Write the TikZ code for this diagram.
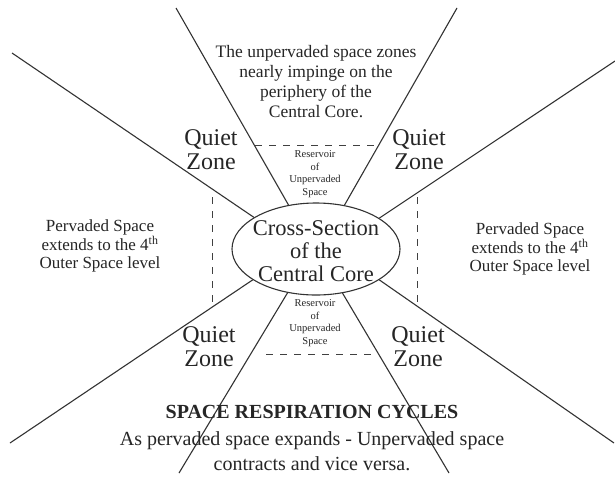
\documentclass[tikz,border=0pt]{standalone}
\usepackage{fontspec}
\setmainfont{Liberation Serif}
\usetikzlibrary{shapes.geometric}
\begin{document}
\begin{tikzpicture}[x=1pt,y=-1pt,
  ray/.style={draw=black!80,line width=1.1pt},
  dashline/.style={draw=black!75,line width=0.9pt,dash pattern=on 7pt off 7pt},
  txt/.style={inner sep=0pt,align=center,text=black!85},
  quiet/.style={txt,font=\fontsize{24}{24}\selectfont},
  resv/.style={txt,font=\fontsize{10.5}{12.5}\selectfont},
  mid/.style={txt,font=\fontsize{17}{18}\selectfont},
]
\useasboundingbox[fill=white] (0,0) rectangle (615,477);
\node[ellipse,draw=black!80,line width=1.1pt,minimum width=168pt,minimum height=92pt,inner sep=0pt] (core) at (316,249) {};
\node[txt,font=\fontsize{22.5}{23}\selectfont] (coret) at (316,251) {Cross-Section\\of the\\Central Core};
% outer ends
\coordinate (o1) at (12,53);
\coordinate (o2) at (176,8);
\coordinate (o3) at (457,8);
\coordinate (o4) at (615,61);
\coordinate (o5) at (10,443);
\coordinate (o6) at (179,473);
\coordinate (o7) at (449,473);
\coordinate (o8) at (614,443);
\draw[ray] (core.153.8) -- (o1);
\draw[ray] (core.122.8) -- (o2);
\draw[ray] (core.57.2) -- (o3);
\draw[ray] (core.26.2) -- (o4);
\draw[ray] (core.206) -- (o5);
\draw[ray] (core.237.2) -- (o6);
\draw[ray] (core.301) -- (o7);
\draw[ray] (core.334) -- (o8);
% dashed lines
\coordinate (d1) at (255,145);
\coordinate (d2) at (376,145);
\coordinate (d3) at (266,354);
\coordinate (d4) at (378,354);
\coordinate (d5) at (212,197);
\coordinate (d6) at (212,305);
\coordinate (d7) at (417,197);
\coordinate (d8) at (417,305);
\draw[dashline] (d1) -- (d2);
\draw[dashline] (d3) -- (d4);
\draw[dashline] (d5) -- (d6);
\draw[dashline] (d7) -- (d8);
% texts
\node[txt,font=\fontsize{17.5}{20}\selectfont] (top) at (316,82) {The unpervaded space zones\\nearly impinge on the\\periphery of the\\Central Core.};
\node[quiet] (q1) at (211,150) {Quiet\\Zone};
\node[quiet] (q2) at (419,150) {Quiet\\Zone};
\node[quiet] (q3) at (209,347) {Quiet\\Zone};
\node[quiet] (q4) at (418,347) {Quiet\\Zone};
\node[resv] (r1) at (315,174) {Reservoir\\of\\Unpervaded\\Space};
\node[resv] (r2) at (315,323) {Reservoir\\of\\Unpervaded\\Space};
\node[mid] (pl) at (100,246) {Pervaded Space\\extends to the 4\textsuperscript{th}\\Outer Space level};
\node[mid] (pr) at (530,249) {Pervaded Space\\extends to the 4\textsuperscript{th}\\Outer Space level};
\node[txt,font=\fontsize{20}{25}\selectfont\bfseries] (title) at (312,412) {SPACE RESPIRATION CYCLES};
\node[txt,font=\fontsize{20}{25}\selectfont] (sub) at (312,451) {As pervaded space expands - Unpervaded space\\contracts and vice versa.};
\end{tikzpicture}
\end{document}
